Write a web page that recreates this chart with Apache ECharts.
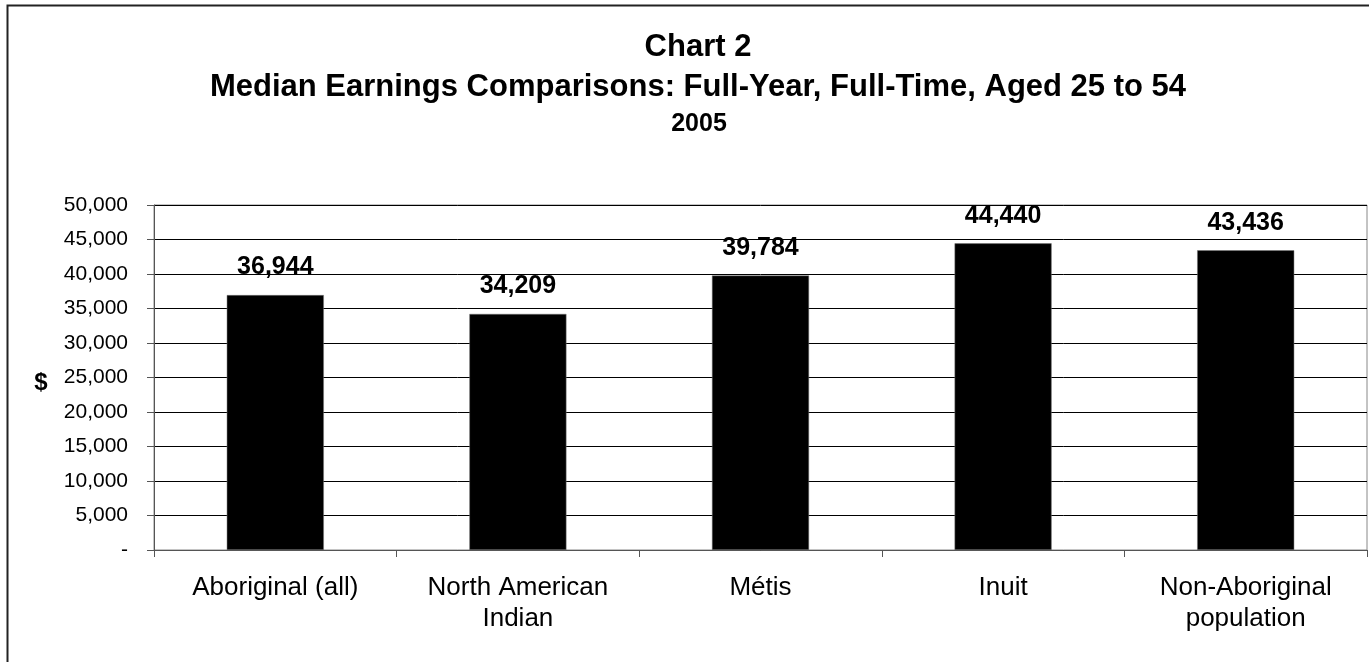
<!DOCTYPE html>
<html><head><meta charset="utf-8">
<script src="https://cdn.jsdelivr.net/npm/echarts@6/dist/echarts.min.js"></script>
<style>html,body{margin:0;padding:0;background:#fff}#c{width:1369px;height:662px}</style>
</head><body><div id="c"></div>
<script>
const categories = ['Aboriginal (all)', 'North American\nIndian', 'Métis', 'Inuit', 'Non-Aboriginal\npopulation'];
const earnings = [36944, 34209, 39784, 44440, 43436];
const yTicks = [0, 5000, 10000, 15000, 20000, 25000, 30000, 35000, 40000, 45000, 50000];
const titleLines = ['Chart 2', 'Median Earnings Comparisons: Full-Year, Full-Time, Aged 25 to 54', '2005'];
const yAxisName = '$';

const FONT = '"Liberation Sans", Arial, sans-serif';
const fmt = v => v === 0 ? '-' : v.toLocaleString('en-US');
const chart = echarts.init(document.getElementById('c'), null, {renderer: 'canvas'});
chart.setOption({
  animation: false,
  backgroundColor: '#fff',
  graphic: [
    {type: 'rect', shape: {x: 7.5, y: 5.5, width: 1400, height: 700}, style: {fill: 'none', stroke: '#222', lineWidth: 2}, z: 100},
    {type: 'text', x: 698, y: 32, style: {text: titleLines[0], font: 'bold 31px ' + FONT, fill: '#000', align: 'center'}},
    {type: 'text', x: 698, y: 72, style: {text: titleLines[1], font: 'bold 31px ' + FONT, fill: '#000', align: 'center'}},
    {type: 'text', x: 699, y: 112, style: {text: titleLines[2], font: 'bold 25px ' + FONT, fill: '#000', align: 'center'}},
    {type: 'text', x: 41, y: 383, style: {text: yAxisName, font: 'bold 24px ' + FONT, fill: '#000', align: 'center', verticalAlign: 'middle'}}
  ],
  grid: {left: 154, right: 2, top: 205, bottom: 112, show: true, borderColor: '#888', borderWidth: 1, backgroundColor: '#fff'},
  xAxis: {
    type: 'category', data: categories,
    axisLine: {lineStyle: {color: '#555', width: 1}},
    axisTick: {show: true, length: 7, lineStyle: {color: '#555'}},
    axisLabel: {color: '#000', fontSize: 26, fontFamily: FONT, margin: 22, lineHeight: 31}
  },
  yAxis: {
    type: 'value', min: yTicks[0], max: yTicks[yTicks.length - 1], interval: 5000,
    axisLine: {show: true, lineStyle: {color: '#555', width: 1}},
    axisTick: {show: true, length: 7, lineStyle: {color: '#555'}},
    splitLine: {lineStyle: {color: '#000', width: 1}},
    axisLabel: {color: '#000', fontSize: 21, fontFamily: FONT, margin: 26, formatter: fmt}
  },
  series: [{
    type: 'bar', data: earnings, barWidth: '40%',
    itemStyle: {color: '#000', borderColor: '#777', borderWidth: 0.5},
    label: {show: true, position: 'top', distance: 15, color: '#000', fontSize: 25, fontWeight: 'bold', fontFamily: FONT, formatter: p => fmt(p.value)}
  }]
});
</script></body></html>
